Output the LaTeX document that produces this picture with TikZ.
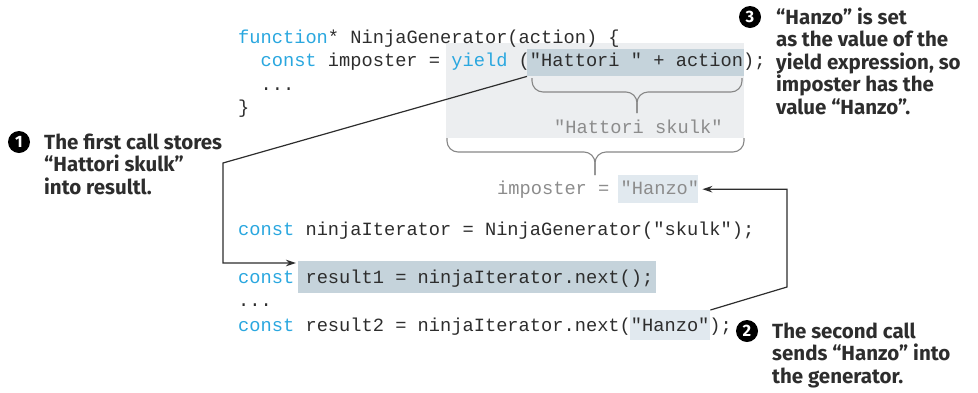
\documentclass[tikz,border=0pt]{standalone}
\usepackage{fontspec}
\usepackage{xcolor}
\usepackage{tikz}
\usetikzlibrary{arrows.meta,positioning,calc}
\newfontfamily\codefont{Liberation Mono}
\newfontfamily\notefont{Fira Sans}
\definecolor{kwblue}{RGB}{42,167,223}
\definecolor{codeink}{RGB}{45,45,45}
\definecolor{dimink}{RGB}{140,140,140}
\definecolor{areagray}{RGB}{236,238,240}
\definecolor{hldark}{RGB}{197,211,219}
\definecolor{hllight}{RGB}{225,233,239}
\definecolor{bracegray}{RGB}{135,135,135}

\tikzset{
  code/.style={font=\codefont\fontsize{18.7}{22}\selectfont, text=codeink, inner sep=0pt, anchor=base west},
  dimcode/.style={code, text=dimink},
  hlbox/.style={inner sep=0pt, anchor=north west},
  % base of a multi-line note = baseline of its last line
  note/.style={font=\notefont\bfseries\fontsize{20.5}{22.5}\selectfont, text=codeink, align=left, inner sep=0pt, anchor=base west},
  num/.style={circle, fill=black, text=white, inner sep=0pt, minimum size=22pt, font=\notefont\bfseries\fontsize{16.5}{16.5}\selectfont},
  link/.style={-{Stealth[length=10pt,width=6.5pt]}, line width=1.2pt, draw=codeink},
  bracepath/.style={draw=bracegray, line width=1.1pt, rounded corners=11pt}
}
\newcommand{\kw}[1]{\textcolor{kwblue}{#1}}

\begin{document}
\begin{tikzpicture}[x=1pt, y=1pt]
    \useasboundingbox (0,0) rectangle (978,-392);
    % Highlights
    \node[hlbox, fill=areagray, minimum width=298, minimum height=95] (area) at (446,-43) {};
    \node[hlbox, fill=hldark, minimum width=217, minimum height=27] (yieldbox) at (527,-49) {};
    \node[hlbox, fill=hllight, minimum width=80, minimum height=28] (hanzoA) at (618,-175) {};
    \node[hlbox, fill=hldark, minimum width=358, minimum height=32] (resbox) at (298,-261) {};
    \node[hlbox, fill=hllight, minimum width=80, minimum height=30] (hanzoB) at (630,-310) {};
    % Generator code
    \node[code] (l1) at (238,-43) {\kw{function}* NinjaGenerator(action) \{};
    \node[code] (l2) at (260.4,-66) {\kw{const} imposter = \kw{yield} ("Hattori " + action);};
    \node[code] (l3) at (260.4,-90) {...};
    \node[code] (l4) at (238,-113) {\}};
    % Values
    \node[dimcode] (skulk) at (554,-133) {"Hattori skulk"};
    \node[dimcode] (impost) at (497,-194) {imposter = "Hanzo"};
    % Calling code
    \node[code] (l5) at (238,-235) {\kw{const} ninjaIterator = NinjaGenerator("skulk");};
    \node[code] (l6) at (238,-283) {\kw{const} result1 = ninjaIterator.next();};
    \node[code] (l7) at (238,-306) {...};
    \node[code] (l8) at (238,-331) {\kw{const} result2 = ninjaIterator.next("Hanzo");};
    % Braces
    \draw[bracepath] (532,-78) |- (637,-92) -- (637,-113);
    \draw[bracepath] (742,-78) |- (637,-92) -- (637,-113);
    \draw[bracepath] (447,-138) |- (595,-152) -- (595,-175);
    \draw[bracepath] (744,-138) |- (595,-152) -- (595,-175);
    % Connectors
    \coordinate (bendA) at (223,-163);
    \coordinate (bendB) at (787,-287);
    \draw[link, shorten >=2pt] (yieldbox.south west) -- (bendA) |- ([yshift=-2pt]resbox.north west);
    \draw[link, shorten >=4pt] (hanzoB.north east) -- (bendB) |- (hanzoA.east);
    % Notes
    \node[num] (n1) at (19,-142) {1};
    \node[note] (t1) at (44,-194) {The first call stores\\“Hattori skulk”\\into resultl.};
    \node[num] (n3) at (750,-17) {3};
    \node[note] (t3) at (776,-114) {“Hanzo” is set\\as the value of the\\yield expression, so\\imposter has the\\value “Hanzo”.};
    \node[num] (n2) at (747,-331) {2};
    \node[note] (t2) at (772,-383) {The second call\\sends “Hanzo” into\\the generator.};
\end{tikzpicture}
\end{document}
